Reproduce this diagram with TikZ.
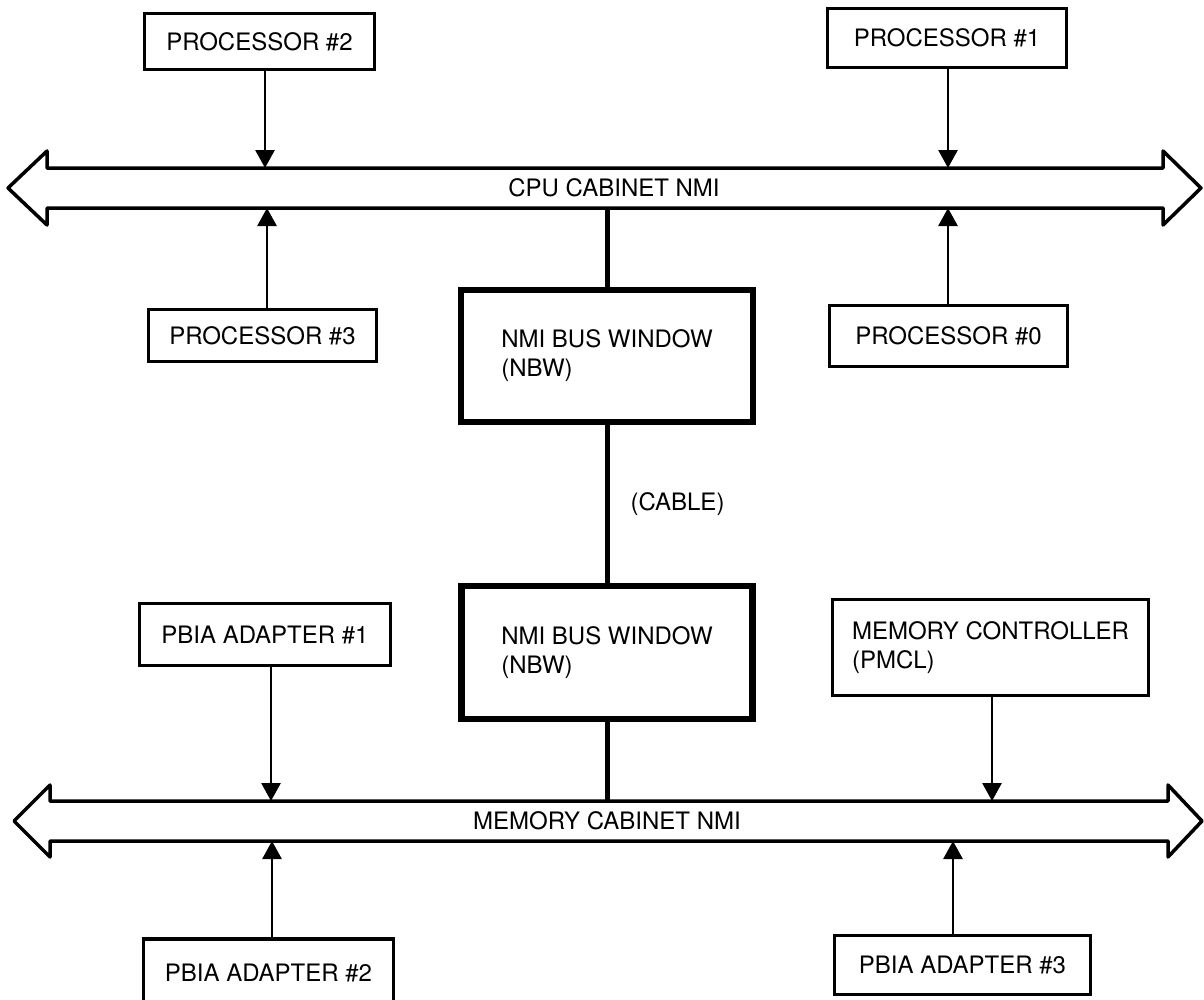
\documentclass[tikz,border=0pt]{standalone}
\usepackage{fontspec}
\setmainfont{TeX Gyre Heros}
\usetikzlibrary{arrows.meta, positioning, calc}

\begin{document}
\begin{tikzpicture}[x=1pt,y=-1pt,
        box/.style={draw, rectangle, line width=3.5pt, inner sep=0pt,
            font=\fontsize{24}{29}\selectfont},
        nbw/.style={box, line width=6.5pt, align=left},
        bus/.style={draw, line width=3.5pt, line join=round, fill=white},
        tap/.style={-{Triangle[width=19pt,length=18pt]}, line width=2.8pt},
        link/.style={line width=5pt},
        lbl/.style={inner sep=0pt, font=\fontsize{24}{29}\selectfont}]
        \useasboundingbox (0,0) rectangle (1204,999);

        % buses
        \draw[bus] (47,168) -- (1163,168) -- (1163,151) -- (1201,188) -- (1163,225)
            -- (1163,208) -- (47,208) -- (47,225) -- (8,188) -- (47,151) -- cycle;
        \draw[bus] (50,801) -- (1168,801) -- (1168,785) -- (1202,821) -- (1168,857)
            -- (1168,841) -- (50,841) -- (50,857) -- (14,821) -- (50,785) -- cycle;
        \node[lbl] (cpu) at (614,188) {CPU CABINET NMI};
        \node[lbl] (mem) at (607,821) {MEMORY CABINET NMI};

        % taps on the buses
        \coordinate (c2) at (265,168);
        \coordinate (c3) at (267,208);
        \coordinate (c1) at (948,168);
        \coordinate (c0) at (948,208);
        \coordinate (cw) at (607,208);
        \coordinate (m1) at (271,801);
        \coordinate (m2) at (272,841);
        \coordinate (mc) at (992,801);
        \coordinate (m3) at (953,841);
        \coordinate (mw) at (607,801);

        \node[box, minimum width=230pt, minimum height=56pt] (p2) at (259.5,41.5) {PROCESSOR \#2};
        \node[box, minimum width=239pt, minimum height=59pt] (p1) at (947,38) {PROCESSOR \#1};
        \node[box, minimum width=228pt, minimum height=52pt] (p3) at (262.5,335.5) {PROCESSOR \#3};
        \node[box, minimum width=238pt, minimum height=61pt] (p0) at (948.5,336) {PROCESSOR \#0};
        \node[nbw, minimum width=292pt, minimum height=132pt] (wa) at (607,356) {NMI BUS WINDOW\\(NBW)};
        \node[nbw, minimum width=291pt, minimum height=133pt] (wb) at (607,652.5) {NMI BUS WINDOW\\(NBW)};
        \node[box, minimum width=251pt, minimum height=62pt] (a1) at (265,634.5) {PBIA ADAPTER \#1};
        \node[box, align=left, minimum width=316pt, minimum height=96pt] (ctl) at (990.5,647.5) {MEMORY CONTROLLER\\(PMCL)};
        \node[box, minimum width=250pt, minimum height=68pt] (a2) at (268.5,973) {PBIA ADAPTER \#2};
        \node[box, minimum width=256pt, minimum height=59pt] (a3) at (962.5,965) {PBIA ADAPTER \#3};

        \draw[tap] (p2.south -| c2) -- (c2);
        \draw[tap] (p1.south -| c1) -- (c1);
        \draw[tap] (p3.north -| c3) -- (c3);
        \draw[tap] (p0.north -| c0) -- (c0);
        \draw[tap] (a1.south -| m1) -- (m1);
        \draw[tap] (ctl.south -| mc) -- (mc);
        \draw[tap] (a2.north -| m2) -- (m2);
        \draw[tap] (a3.north -| m3) -- (m3);

        \draw[link] (cw) -- (wa.north);
        \draw[link] (wa.south) -- node[lbl, right=21pt] (cab) {(CABLE)} (wb.north);
        \draw[link] (wb.south) -- (mw);
    \end{tikzpicture}
\end{document}
